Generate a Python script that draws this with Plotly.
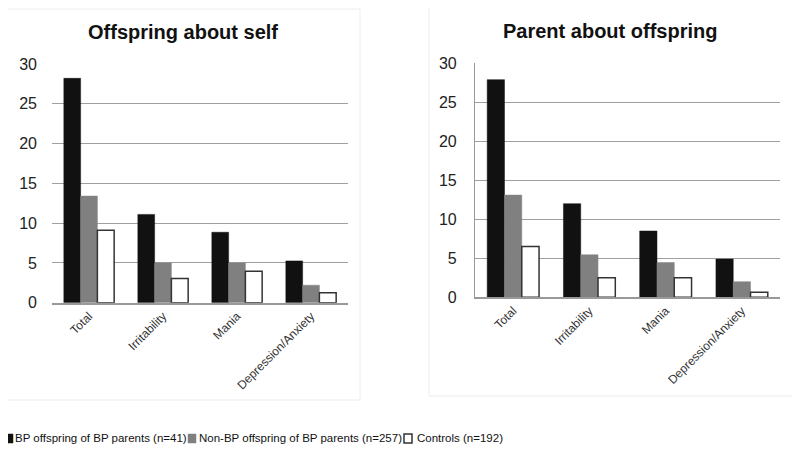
import plotly.graph_objects as go

categories = ["Total", "Irritability", "Mania", "Depression/Anxiety"]
series_names = ["BP offspring of BP parents (n=41)",
                "Non-BP offspring of BP parents (n=257)",
                "Controls (n=192)"]

self_bp = [28.2, 11.1, 8.85, 5.25]
self_nonbp = [13.4, 5.0, 5.0, 2.2]
self_ctrl = [9.1, 3.05, 3.95, 1.25]

parent_bp = [27.9, 12.0, 8.5, 4.9]
parent_nonbp = [13.1, 5.45, 4.45, 2.0]
parent_ctrl = [6.5, 2.5, 2.5, 0.65]

titles = ["Offspring about self", "Parent about offspring"]
y_ticks = [0, 5, 10, 15, 20, 25, 30]

# page body has an 8px margin; figure is sized to fit the 800x458 window
OFF = 8
W, H = 800 - OFF, 458 - OFF
def py(pix):
    return (H - (pix - OFF)) / H
def px(pix):
    return (pix - OFF) / W

fills = ["#111111", "#808080", "#ffffff"]
lines = ["#111111", "#808080", "#333333"]

fig = go.Figure()
panels = [(self_bp, self_nonbp, self_ctrl, "x", "y"),
          (parent_bp, parent_nonbp, parent_ctrl, "x2", "y2")]
for pi, (a, b, c, xa, ya) in enumerate(panels):
    for si, vals in enumerate([a, b, c]):
        fig.add_trace(go.Bar(
            x=categories, y=vals, name=series_names[si],
            marker=dict(color=fills[si], line=dict(color=lines[si], width=1.5 if si == 2 else 0.5)),
            xaxis=xa, yaxis=ya, showlegend=False,
        ))

tickfont = dict(family="Liberation Sans, Arial, sans-serif", size=16, color="#222222")
catfont = dict(family="Liberation Sans, Arial, sans-serif", size=12, color="#333333")

common_x = dict(type="category", showgrid=False, tickangle=-45, tickfont=catfont, automargin=False,
                showline=True, linecolor="#999999", linewidth=1.5, ticks="", fixedrange=True)
common_y = dict(range=[0, 30], tickvals=y_ticks, showgrid=True, gridcolor="#a0a0a0", automargin=False,
                gridwidth=1.2, zeroline=False, tickfont=tickfont, ticks="",
                ticklabelstandoff=14, fixedrange=True)

legfont = dict(family="Liberation Sans, Arial, sans-serif", size=11.5, color="#111111")
leg_text_x = [13, 197, 415]
leg_sym_x = [5, 188, 404]
leg_y = 438

annotations = [
    dict(text="<b>%s</b>" % titles[0], x=px(183), y=py(32), xref="paper", yref="paper",
         xanchor="center", yanchor="middle", showarrow=False,
         font=dict(family="Liberation Sans, Arial, sans-serif", size=20, color="#111111")),
    dict(text="<b>%s</b>" % titles[1], x=px(610), y=py(31), xref="paper", yref="paper",
         xanchor="center", yanchor="middle", showarrow=False,
         font=dict(family="Liberation Sans, Arial, sans-serif", size=20, color="#111111")),
]
shapes = [
    dict(type="rect", xref="paper", yref="paper", x0=px(7), x1=px(360), y0=py(400), y1=py(9),
         line=dict(color="#ececec", width=1), layer="below"),
    dict(type="rect", xref="paper", yref="paper", x0=px(429), x1=px(793), y0=py(396), y1=py(7),
         line=dict(color="#ececec", width=1), layer="below"),
]
for i, name in enumerate(series_names):
    annotations.append(dict(text=name, x=px(leg_text_x[i]), y=py(leg_y), xref="paper", yref="paper",
                            xanchor="left", yanchor="middle", showarrow=False, font=legfont))
    shapes.append(dict(type="rect", xref="paper", yref="paper",
                       x0=px(leg_sym_x[i]), x1=px(leg_sym_x[i] + 8),
                       y0=py(leg_y + 5), y1=py(leg_y - 4),
                       fillcolor=fills[i], line=dict(color=lines[i], width=1.5 if i == 2 else 0.5)))

fig.update_layout(
    width=W, height=H,
    margin=dict(l=0, r=0, t=0, b=0, pad=0, autoexpand=False),
    paper_bgcolor="white", plot_bgcolor="white",
    barmode="group", bargap=0.32, bargroupgap=0,
    xaxis=dict(domain=[px(52), px(348)], anchor="y", **common_x),
    yaxis=dict(domain=[py(302.7), py(64)], anchor="x", showline=False, **common_y),
    xaxis2=dict(domain=[px(475), px(780)], anchor="y2", **common_x),
    yaxis2=dict(domain=[py(297.3), py(63.3)], anchor="x2", showline=True,
                linecolor="#999999", linewidth=1.2, **common_y),
    showlegend=False,
    annotations=annotations,
    shapes=shapes,
)

fig.write_html("out.html")
